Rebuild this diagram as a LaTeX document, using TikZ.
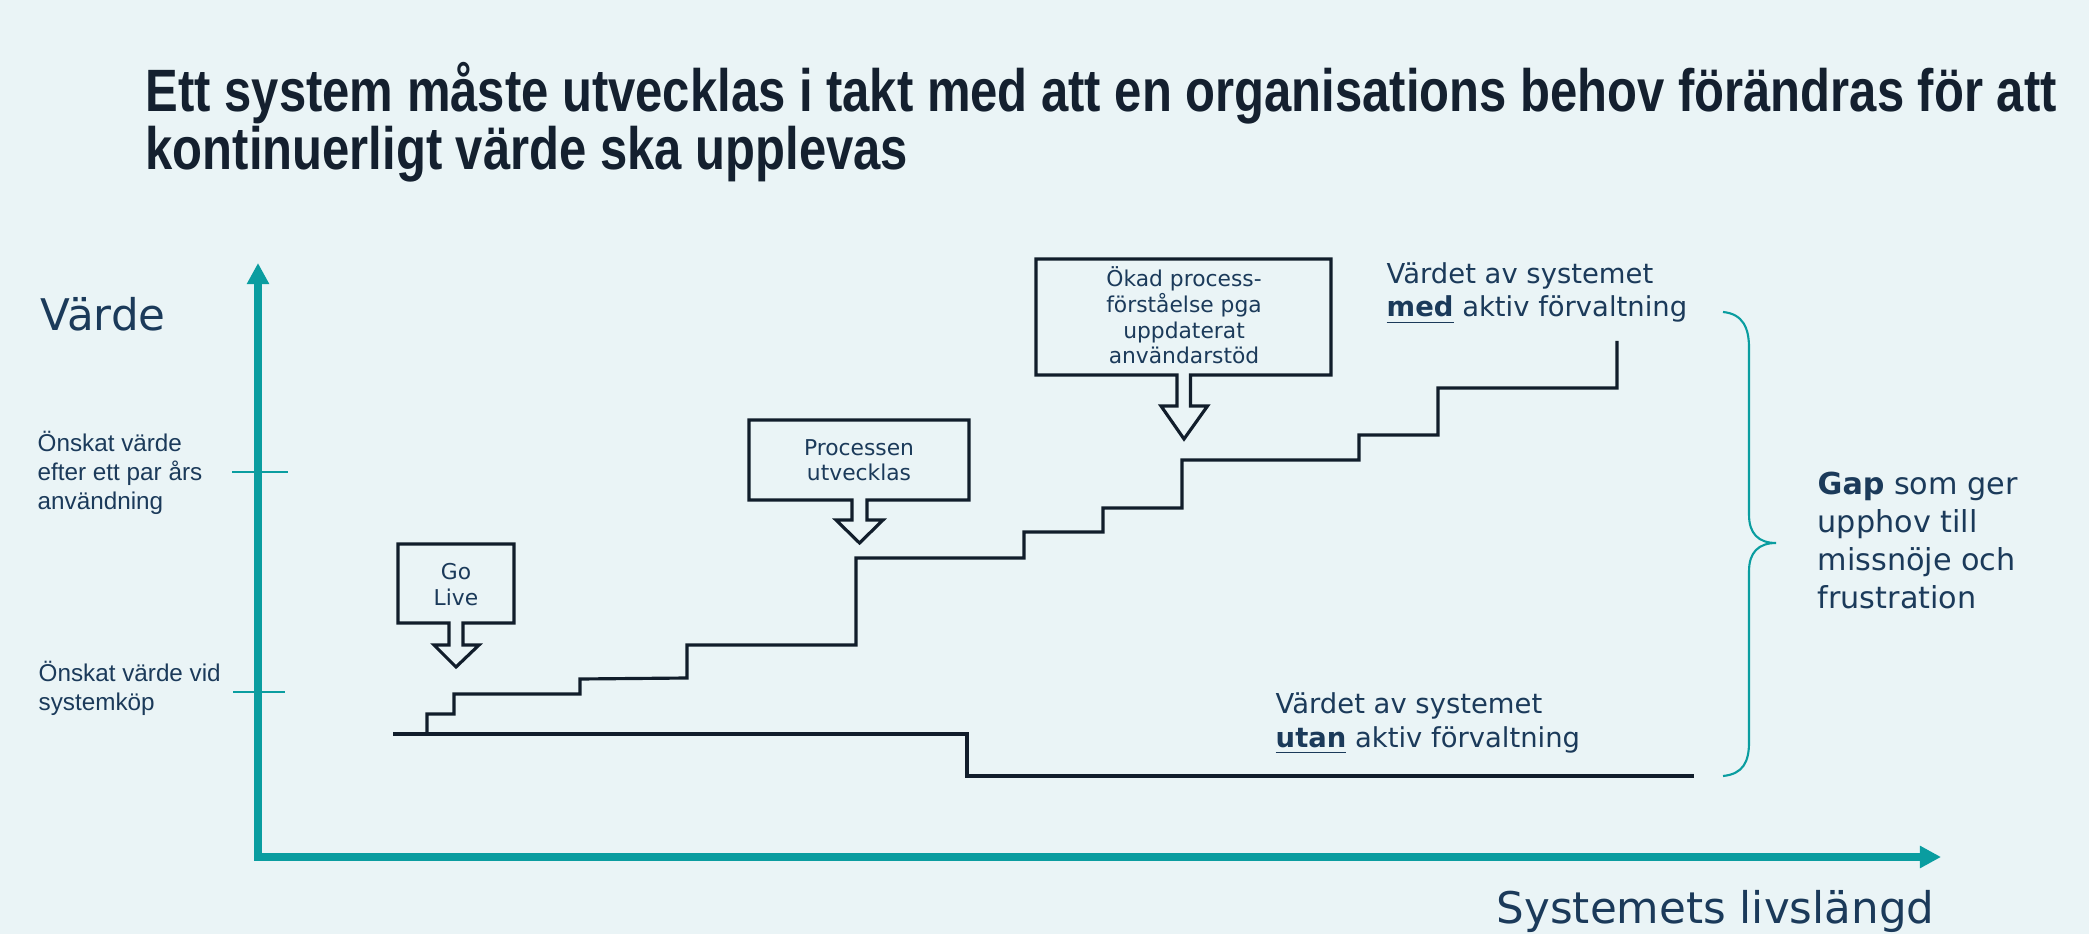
\documentclass[tikz,border=0pt]{standalone}
\usepackage{fontspec}
\setmainfont{Liberation Sans}
\newfontfamily\verdanalike{DejaVu Sans}
\usetikzlibrary{arrows.meta}

\definecolor{bgcol}{HTML}{EAF4F6}
\definecolor{titlecol}{HTML}{14202F}
\definecolor{txtcol}{HTML}{1B3A5A}
\definecolor{tealcol}{HTML}{0A9DA0}
\definecolor{linecol}{HTML}{111D2B}

\tikzset{
	axis/.style={tealcol, line width=2pt, line join=miter},
	tickmark/.style={tealcol, line width=0.5pt},
	stair/.style={linecol, line width=0.9pt},
	callout/.style={linecol, line width=0.9pt, line join=miter},
	gapbrace/.style={tealcol, line width=0.6pt},
	boxtext/.style={txtcol, align=center, anchor=base, inner sep=0pt,
		font=\verdanalike\fontsize{6.2}{7.3}\selectfont},
	ylbl/.style={txtcol, align=left, anchor=base west, inner sep=0pt,
		font=\fontsize{6.9}{8.2}\selectfont},
	axislbl/.style={txtcol, anchor=base west, inner sep=0pt,
		font=\verdanalike\fontsize{12.4}{14}\selectfont},
	valtext/.style={txtcol, align=left, anchor=base west, inner sep=0pt,
		font=\verdanalike\fontsize{7.8}{9.4}\selectfont},
	gaptext/.style={txtcol, align=left, anchor=base west, inner sep=0pt,
		font=\verdanalike\fontsize{8.6}{10.8}\selectfont}
}

\begin{document}
\begin{tikzpicture}[x=0.01cm, y=-0.01cm]
		\fill[bgcol] (0, 0) rectangle (2089, 934);
		\useasboundingbox (0, 0) rectangle (2089, 934);

		% rubrik
		\node[anchor=base west, inner sep=0pt, text=titlecol] (rubrik) at (145, 112)
			{\resizebox{19.1cm}{\height}{\vtop{\fontsize{17}{16.4}\selectfont\bfseries\lineskiplimit=-20pt
				\hbox{Ett system måste utvecklas i takt med att en organisations behov förändras för att}
				\hbox{kontinuerligt värde ska upplevas}}}};

		% axlar
		\draw[axis, {Triangle[length=6pt, width=6pt]}-{Triangle[length=6pt, width=6pt]}]
			(258, 263) -- (258, 857) -- (1941, 857);
		\draw[tickmark] (232, 472) -- (288, 472);
		\draw[tickmark] (233, 692) -- (285, 692);
		\node[axislbl] (varde) at (40, 331) {Värde};
		\node[axislbl] (livslangd) at (1496, 923) {Systemets livslängd};
		% (base = sista radens baslinje)
		\node[ylbl] (onskatEfter) at (37, 509) {Önskat värde\\efter ett par års\\användning};
		\node[ylbl] (onskatVid) at (38, 710) {Önskat värde vid\\systemköp};

		% utan förvaltning
		\draw[stair] (393, 734) -- (967, 734) -- (967, 776) -- (1694, 776);
		% med förvaltning
		\draw[stair] (427, 734) -- (427, 714) -- (454, 714) -- (454, 694) -- (580, 694)
			-- (580, 679) -- (687, 678) -- (687, 645) -- (856, 645) -- (856, 558)
			-- (1024, 558) -- (1024, 532) -- (1103, 532) -- (1103, 508) -- (1182, 508)
			-- (1182, 460) -- (1359, 460) -- (1359, 435) -- (1438, 435) -- (1438, 388)
			-- (1617, 388) -- (1617, 341);

		% pratbubblor
		\draw[callout] (398, 544) -- (514, 544) -- (514, 623) -- (463, 623) -- (463, 645)
			-- (479, 645) -- (456, 667) -- (434, 645) -- (449, 645) -- (449, 623)
			-- (398, 623) -- cycle;
		\draw[callout] (749, 420) -- (969, 420) -- (969, 500) -- (867, 500) -- (867, 520)
			-- (883, 520) -- (859.5, 543) -- (836, 520) -- (852, 520) -- (852, 500)
			-- (749, 500) -- cycle;
		\draw[callout] (1036, 259) -- (1331, 259) -- (1331, 375) -- (1190.5, 375)
			-- (1190.5, 406) -- (1207.5, 406) -- (1184, 439) -- (1161, 406)
			-- (1177, 406) -- (1177, 375) -- (1036, 375) -- cycle;
		\node[boxtext] (golive) at (456, 605) {Go\\Live};
		\node[boxtext] (processen) at (859, 481) {Processen\\utvecklas};
		\node[boxtext] (okad) at (1184, 364) {Ökad process-\\förståelse pga\\uppdaterat\\användarstöd};

		% etiketter
		\node[valtext] (medLbl) at (1386, 317) {Värdet av systemet\\\underline{\textbf{med}} aktiv förvaltning};
		\node[valtext] (utanLbl) at (1275, 747) {Värdet av systemet\\\underline{\textbf{utan}} aktiv förvaltning};

		% gap
		\draw[gapbrace] (1723, 312) .. controls (1743, 314) and (1749, 328) .. (1749, 348)
			-- (1749, 515) .. controls (1749, 533) and (1758, 543) .. (1776, 543)
			.. controls (1758, 543) and (1749, 553) .. (1749, 571)
			-- (1749, 742) .. controls (1749, 762) and (1743, 774) .. (1723, 776);
		\node[gaptext] (gap) at (1817, 608) {\textbf{Gap} som ger\\upphov till\\missnöje och\\frustration};
\end{tikzpicture}
\end{document}
